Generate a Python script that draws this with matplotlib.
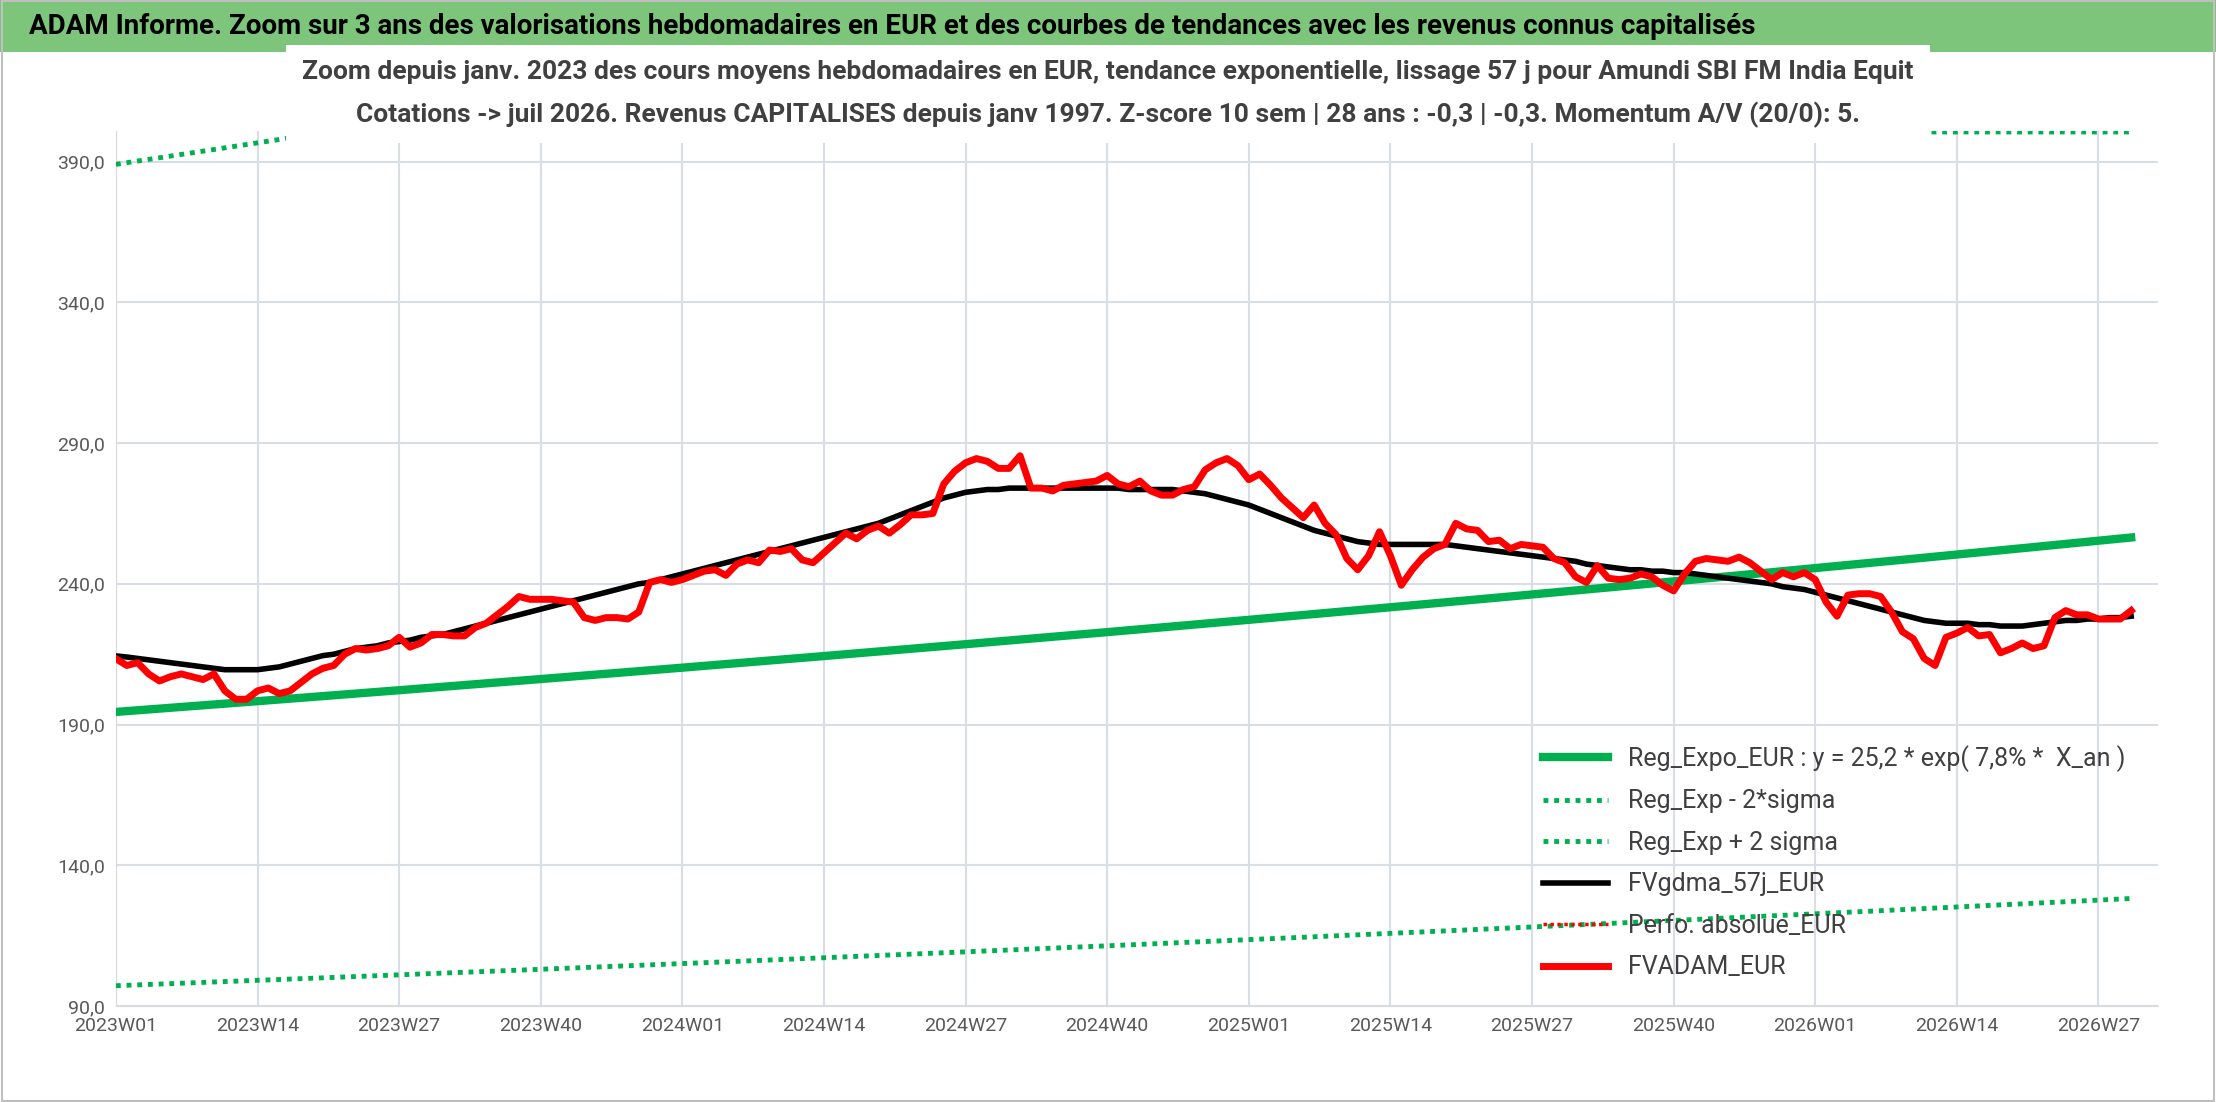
import matplotlib
matplotlib.use('Agg')
import matplotlib.pyplot as plt
import numpy as np

# weekly labels 2023W01 .. ; every 13th is shown
years_weeks = [(2023, 52), (2024, 52), (2025, 52), (2026, 52)]
labels = []
for y, n in years_weeks:
  for w in range(1, n + 1):
    labels.append("%dW%02d" % (y, w))

adam = [213.4, 211, 212, 208, 205.5, 207, 208, 207, 206, 208,
        202, 199, 199, 202, 203, 201, 202, 205, 208, 210,
        211, 215, 217, 216.5, 217, 218, 221, 217.5, 219, 222,
        222, 221.5, 221.5, 224.5, 226, 229, 232, 235.5, 234.5, 234.5,
        234.5, 234, 233.5, 228, 227, 228, 228, 227.5, 230, 240.5,
        241.5, 240.5, 241.5, 243, 244.5, 245, 243, 247, 248.5, 247.5,
        252, 251.5, 252.5, 248.5, 247.5, 251, 254.5, 258, 256, 259,
        260.5, 258, 261, 264.5, 264.5, 265, 275.5, 280, 283, 284.5,
        283.5, 281, 281, 285.5, 274, 274, 273, 275, 275.5, 276,
        276.5, 278.5, 275.5, 274.5, 276.5, 273, 271.5, 271.5, 273.5, 274.5,
        280.5, 283, 284.5, 282, 277, 279, 275, 270.5, 267, 263.5,
        268, 261.5, 257.5, 249, 245, 250, 258.5, 250, 239.5, 245,
        249.5, 252.5, 254, 261.5, 259.5, 259, 255, 255.5, 252.5, 254,
        253.5, 253, 249, 247.5, 242.5, 240.5, 246.5, 242, 241.5, 242,
        243.5, 242.5, 239.5, 237.5, 243.5, 248, 249, 248.5, 248, 249.5,
        247.5, 244.5, 241.5, 244, 242.5, 244, 241.5, 233.5, 228.5, 236,
        236.5, 236.5, 235.5, 230, 223, 220.5, 213.5, 211, 221, 222.5,
        224.5, 221.5, 222, 215.5, 217, 219, 217, 218, 228, 230.5,
        229, 229, 227.5, 227.5, 227.5, 230.5]

gdma = [214.4, 214, 213.5, 213, 212.5, 212, 211.5, 211, 210.5, 210,
        209.5, 209.5, 209.5, 209.5, 210, 210.5, 211.5, 212.5, 213.5, 214.5,
        215, 216, 217, 217.5, 218, 219, 219.5, 220, 221, 221.5,
        222, 223, 224, 225, 226, 227, 228, 229, 230, 231,
        232, 233, 234, 235, 236, 237, 238, 239, 240, 240.5,
        241.5, 242.5, 243.5, 244.5, 245.5, 246.5, 247.5, 248.5, 249.5, 250.5,
        251.5, 252.5, 253.5, 254.5, 255.5, 256.5, 257.5, 258.5, 259.5, 260.5,
        261.5, 263, 264.5, 266, 267.5, 269, 270.5, 271.5, 272.5, 273,
        273.5, 273.5, 274, 274, 274, 274, 274, 274, 274, 274,
        274, 274, 274, 273.5, 273.5, 273.5, 273.5, 273.5, 273, 272.5,
        272, 271, 270, 269, 268, 266.5, 265, 263.5, 262, 260.5,
        259, 258, 257, 256, 255, 254.5, 254, 254, 254, 254,
        254, 254, 254, 253.5, 253, 252.5, 252, 251.5, 251, 250.5,
        250, 249.5, 249, 248.5, 248, 247, 246.5, 246, 245.5, 245,
        245, 244.5, 244.5, 244, 244, 243.5, 243, 242.5, 242, 241.5,
        241, 240.5, 240, 239, 238.5, 238, 237, 236, 235, 234,
        233, 232, 231, 230, 229, 228, 227, 226.5, 226, 226,
        226, 225.5, 225.5, 225, 225, 225, 225.5, 226, 226.5, 227,
        227, 227.5, 227.5, 228, 228, 228.5]

# regression from legend : y = 25.2 * exp(7.8% * X_an), X_an in years since start of quotes
reg_a = 25.2
reg_r = 0.078
x_an0 = 26.2
sigma_lo = 0.5
sigma_hi = 2.0

n = len(adam)
x = np.arange(n)
reg = reg_a * np.exp(reg_r * (x_an0 + x / 52.18))
ytop = 400.8

green = '#00B050'
plt.rcParams['font.family'] = ['Roboto', 'DejaVu Sans']

fig = plt.figure(figsize=(22.16, 11.02), dpi=100)
fig.patch.set_facecolor('white')
fig.patches.append(plt.Rectangle((0, 0.953), 1, 0.047, transform=fig.transFigure,
                                 facecolor='#7DC57B', edgecolor='none', zorder=0))
fig.patches.append(plt.Rectangle((0.001, 0.001), 0.998, 0.998, transform=fig.transFigure,
                                 facecolor='none', edgecolor='#BFBFBF', lw=1.5, zorder=0))
fig.text(0.013, 0.976, "ADAM Informe. Zoom sur 3 ans des valorisations hebdomadaires en EUR et des courbes de tendances avec les revenus connus capitalisés",
         fontsize=20, fontweight='bold', ha='left', va='center', color='black')

ax = fig.add_axes([0.0523, 0.087, 0.9217, 0.794])
ax.plot(x, reg, color=green, lw=6, label="Reg_Expo_EUR : y = 25,2 * exp( 7,8% *  X_an )", zorder=3)
ax.plot(x, reg * sigma_lo, color=green, lw=3.5, ls=(0, (1, 1.2)), label="Reg_Exp - 2*sigma", zorder=3)
ax.plot(x, np.minimum(reg * sigma_hi, ytop - 0.3), color=green, lw=3.5, ls=(0, (1, 1.2)),
        label="Reg_Exp + 2 sigma", zorder=3)
ax.plot(x, gdma, color='black', lw=4, label="FVgdma_57j_EUR", zorder=4)
ax.plot([], [], color='red', lw=2.5, ls=(0, (1, 1)), label="Perfo. absolue_EUR")
ax.plot(x, adam, color='#FF0000', lw=5, label="FVADAM_EUR", zorder=5)

ax.set_xlim(0, 187.5)
ax.set_ylim(90, ytop)
ax.set_yticks(np.arange(90, 391, 50))
ax.set_yticklabels(["%d,0" % v for v in np.arange(90, 391, 50)])
ticks = list(range(0, n, 13))
ax.set_xticks(ticks)
ax.set_xticklabels([labels[t] for t in ticks])
ax.tick_params(axis='both', labelsize=14, colors='#595959', length=0, pad=8)
ax.grid(True, color='#D9DDE6', lw=1.5)
ax.set_axisbelow(True)
for s in ['top', 'right']:
  ax.spines[s].set_visible(False)
ax.spines['left'].set_color('#D9D9D9')
ax.spines['bottom'].set_color('#D9D9D9')

sub = ("Zoom depuis janv. 2023 des cours moyens hebdomadaires en EUR, tendance exponentielle, lissage 57 j pour Amundi SBI FM India Equit\n"
       "Cotations -> juil 2026. Revenus CAPITALISES depuis janv 1997. Z-score 10 sem | 28 ans : -0,3 | -0,3. Momentum A/V (20/0): 5.")
fig.text(0.5, 0.915, sub, fontsize=19, fontweight='bold', ha='center', va='center', color='#404040',
         linespacing=1.85, zorder=10,
         bbox=dict(facecolor='white', edgecolor='none', boxstyle='square,pad=0.6'))

leg = ax.legend(loc='lower right', bbox_to_anchor=(0.995, 0.005), fontsize=18, frameon=False,
                handlelength=2.6, labelspacing=0.7, labelcolor='#404040')
fig.savefig('out.png', dpi=100)
